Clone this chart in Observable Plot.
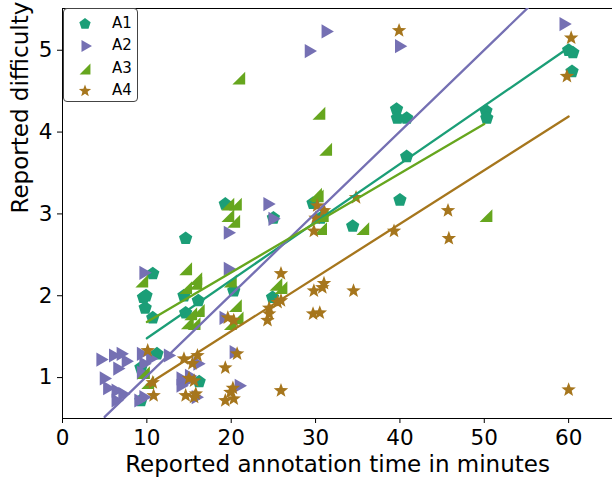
<!DOCTYPE html>
<html>
<head>
<meta charset="utf-8">
<script src="https://cdn.jsdelivr.net/npm/d3@7"></script>
<script src="https://cdn.jsdelivr.net/npm/@observablehq/plot@0.6"></script>
<style>
  body { margin: 0; background: #fff; }
  #wrap { position: relative; width: 612px; height: 477px; overflow: hidden; font-family: "DejaVu Sans", sans-serif; }
  #legend { position: absolute; left: 63px; top: 8px; width: 75px; height: 94px; border: 1px solid #444; border-radius: 4px; background: #fff; box-sizing: border-box; }
  .row { position: absolute; left: 0; width: 74px; height: 20px; }
  .row svg { position: absolute; left: 10px; top: 0px; }
  .row span { position: absolute; left: 48px; top: 1px; font-size: 15px; line-height: 18px; color: #000; }
</style>
</head>
<body>
<div id="wrap"></div>
<script>
// ---- data ----
const series = ["A1", "A2", "A3", "A4"];
const colors = ["#1b9e77", "#7570b3", "#66a61e", "#a6761d"];

const a1X = [9.3, 9.3, 11.2, 9.6, 9.8, 9.9, 10.7, 10.7, 14.6, 14.6, 14.4, 16.1, 16.2, 19.3, 20.3, 24.9, 25.0, 29.7, 30.6, 34.4, 39.6, 39.7, 40.8, 40.8, 40.0, 50.2, 50.3, 60.0, 60.5, 60.4];
const a1Y = [0.72, 1.12, 1.29, 1.98, 1.85, 2.0, 2.27, 1.73, 2.70, 1.79, 2.0, 1.94, 0.95, 3.12, 2.06, 1.98, 2.95, 3.13, 2.95, 2.85, 4.28, 4.17, 4.17, 3.70, 3.17, 4.26, 4.17, 5.0, 4.97, 4.74];

const a2X = [4.5, 6.0, 6.9, 7.5, 6.5, 4.9, 5.3, 6.3, 7.1, 6.3, 9.3, 9.6, 9.3, 10.4, 12.5, 9.0, 9.6, 14.4, 14.0, 15.0, 15.8, 16.0, 14.0, 19.1, 20.3, 20.9, 9.6, 19.6, 19.6, 24.3, 24.9, 29.2, 31.2, 39.9, 59.4];
const a2Y = [1.22, 1.27, 1.29, 1.2, 1.11, 0.99, 0.87, 0.84, 0.80, 0.72, 1.29, 1.17, 1.06, 1.23, 1.27, 0.72, 0.76, 0.94, 0.90, 1.02, 0.76, 1.17, 0.99, 1.73, 1.31, 0.90, 2.28, 2.77, 2.33, 3.12, 2.94, 4.99, 5.23, 5.05, 5.32];

const a3X = [20.9, 30.4, 31.2, 30.0, 19.6, 20.5, 19.6, 20.3, 35.6, 30.2, 30.8, 30.6, 25.3, 25.9, 14.6, 15.8, 14.6, 16.1, 14.8, 19.9, 20.5, 19.9, 20.7, 9.4, 15.6, 15.2, 10.1, 9.6, 50.2, 15.8];
const a3Y = [4.66, 4.23, 3.79, 3.24, 3.12, 3.12, 2.98, 2.91, 2.82, 3.22, 2.98, 2.82, 2.14, 2.10, 2.33, 2.21, 2.10, 1.82, 1.67, 2.18, 1.88, 1.66, 1.73, 2.18, 1.66, 1.78, 0.94, 1.06, 2.98, 2.15];

const a4X = [39.9, 60.3, 59.8, 45.7, 45.8, 39.3, 60.0, 34.8, 34.5, 25.9, 29.8, 30.8, 31.0, 29.7, 30.5, 30.2, 31.0, 29.8, 30.0, 24.5, 24.3, 25.9, 25.5, 24.5, 16.0, 20.7, 19.3, 15.4, 25.9, 20.2, 19.3, 20.3, 19.9, 15.6, 15.8, 10.1, 10.7, 10.8, 14.4, 15.0, 14.6, 15.6, 19.6, 20.3];
const a4Y = [5.24, 5.15, 4.68, 3.04, 2.70, 2.79, 0.85, 3.20, 2.06, 2.27, 2.06, 2.10, 2.15, 1.78, 1.79, 3.10, 3.04, 2.79, 2.95, 1.85, 1.70, 1.94, 1.92, 1.78, 1.27, 1.29, 1.12, 1.17, 0.84, 0.87, 0.72, 0.74, 0.82, 0.96, 0.80, 1.33, 0.94, 0.78, 1.23, 0.99, 0.78, 0.76, 1.73, 1.70];

// fitted lines (start / end)
const fitX0 = [10, 5, 10, 10];
const fitY0 = [1.48, 0.52, 1.68, 0.91];
const fitX1 = [60, 60, 50, 60];
const fitY1 = [5.03, 6.0, 4.10, 4.19];

const xTicks = [0, 10, 20, 30, 40, 50, 60];
const yTicks = [1, 2, 3, 4, 5];
const xLabel = "Reported annotation time in minutes";
const yLabel = "Reported difficulty";

// ---- marker shapes ----
function polySymbol(fn) {
  return {
    draw(ctx, size) {
      const r = Math.sqrt(size / Math.PI);
      const pts = fn(r);
      ctx.moveTo(pts[0][0], pts[0][1]);
      for (let i = 1; i < pts.length; i++) ctx.lineTo(pts[i][0], pts[i][1]);
      ctx.closePath();
    }
  };
}
const pentagon = polySymbol(r => d3.range(5).map(i => {
  const a = -Math.PI / 2 + i * 2 * Math.PI / 5;
  return [r * Math.cos(a), r * Math.sin(a)];
}));
const triRight = polySymbol(r => [[r, 0], [-r / 2, -0.866 * r], [-r / 2, 0.866 * r]]);
const corner = polySymbol(r => { const s = 0.8 * r; return [[s, -s], [s, s], [-s, s]]; });
const star = polySymbol(r => d3.range(10).map(i => {
  const a = -Math.PI / 2 + i * Math.PI / 5;
  const rr = i % 2 ? r * 0.42 : r;
  return [rr * Math.cos(a), rr * Math.sin(a)];
}));
const symbols = [pentagon, triRight, corner, star];
const sizes = [7, 8.2, 8, 7.6];

const xs = [a1X, a2X, a3X, a4X];
const ys = [a1Y, a2Y, a3Y, a4Y];
const pointSets = series.map((s, k) => xs[k].map((x, i) => ({s, x, y: ys[k][i]})));
const fitRows = series.flatMap((s, k) => [
  {s, x: fitX0[k], y: fitY0[k]},
  {s, x: fitX1[k], y: fitY1[k]}
]);

const plot = Plot.plot({
  width: 612,
  height: 477,
  marginLeft: 62,
  marginRight: 0,
  marginTop: 8,
  marginBottom: 59,
  style: {fontFamily: "DejaVu Sans, sans-serif", color: "#000", background: "#fff", overflow: "hidden"},
  x: {domain: [0, 65.2]},
  y: {domain: [0.5, 5.51]},
  color: {domain: series, range: colors},
  marks: [
    Plot.frame({stroke: "#000", strokeWidth: 1, insetRight: -6}),
    Plot.axisX({ticks: xTicks, tickSize: 5, tickPadding: 6, fontSize: 21.5, label: null, tickFormat: d => String(d)}),
    Plot.axisY({ticks: yTicks, tickSize: 5, tickPadding: 5, fontSize: 21.5, label: null, tickFormat: d => String(d)}),
    ...pointSets.map((pts, k) => Plot.dot(pts, {x: "x", y: "y", fill: colors[k], symbol: symbols[k], r: sizes[k], stroke: "none"})),
    Plot.line(fitRows, {x: "x", y: "y", z: "s", stroke: "s", strokeWidth: 2.3, clip: true}),
    Plot.text([xLabel], {frameAnchor: "bottom", dy: 53, fontSize: 23, text: d => d}),
    Plot.text([yLabel], {frameAnchor: "left", dx: -42, rotate: -90, fontSize: 23, text: d => d})
  ]
});

const wrap = document.getElementById("wrap");
wrap.appendChild(plot);

// legend (inside the plot, upper left)
const legend = document.createElement("div");
legend.id = "legend";
series.forEach((s, k) => {
  const row = document.createElement("div");
  row.className = "row";
  row.style.top = (4 + k * 22.3) + "px";
  const p = d3.path();
  symbols[k].draw(p, Math.PI * (sizes[k] * 0.85) ** 2);
  row.innerHTML = `<svg width="22" height="22" viewBox="-11 -11 22 22"><path d="${p.toString()}" fill="${colors[k]}"/></svg><span>${s}</span>`;
  legend.appendChild(row);
});
wrap.appendChild(legend);
</script>
</body>
</html>
